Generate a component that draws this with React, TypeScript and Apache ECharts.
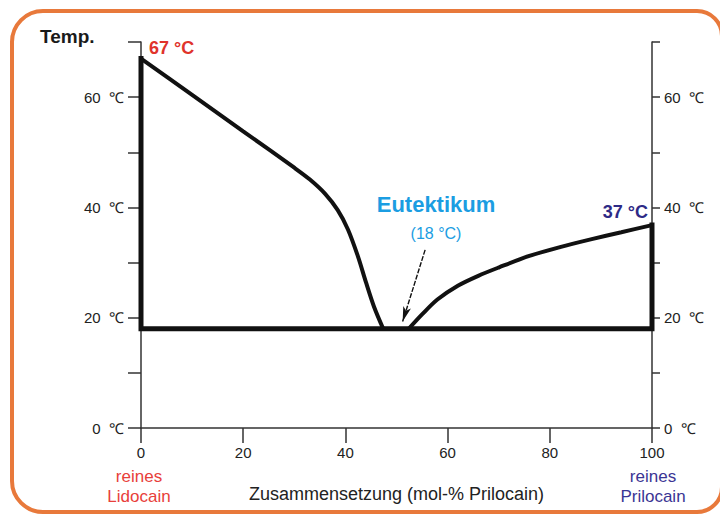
import React, { useEffect, useRef } from "react";
import * as echarts from "echarts";

// Composition in mol-% Prilocain (x) vs. temperature in °C (y)
const leftLiquidus: [number, number][] = [
  [0, 67], [10, 60.4], [20, 53.8], [30, 47.2], [33, 45.1], [36, 42.5],
  [38.5, 39.5], [40.5, 36], [42.5, 31], [44, 26.5], [45.6, 22], [47.4, 18],
];
const rightLiquidus: [number, number][] = [
  [52.4, 18], [55, 20.6], [58, 23.3], [62, 25.8], [66, 27.6], [70, 29.1],
  [76, 31.2], [82, 32.8], [88, 34.2], [94, 35.5], [100, 36.8],
];
const solidusFrame: [number, number][] = [[0, 67], [0, 18], [100, 18], [100, 36.8]];
const arrowFrom: [number, number] = [55.6, 32.3];
const arrowTo: [number, number] = [51.2, 19.3];
const yLabelValues = [0, 20, 40, 60];
const xTickValues = [0, 20, 40, 60, 80, 100];

const lidocainMelt = "67 °C";
const prilocainMelt = "37 °C";
const eutecticName = "Eutektikum";
const eutecticTemp = "(18 °C)";
const xAxisName = "Zusammensetzung (mol-% Prilocain)";

const FONT = "'Liberation Sans', Arial, sans-serif";

export default function App() {
  const ref = useRef<HTMLDivElement>(null);
  useEffect(() => {
    document.body.style.margin = "0";
    const chart = echarts.init(ref.current!, null, { renderer: "svg" });
    const axisColor = "#333";
    const yLabelFmt = (v: number) => (yLabelValues.includes(v) ? `${v}  ℃` : "");
    chart.setOption({
      animation: false,
      backgroundColor: "#fff",
      grid: { left: 141, right: 68, top: 42, bottom: 86 },
      xAxis: {
        type: "value",
        min: 0,
        max: 100,
        interval: 20,
        name: xAxisName,
        nameLocation: "middle",
        nameGap: 57,
        nameTextStyle: { fontSize: 18, color: "#222", fontFamily: FONT },
        axisLine: { onZero: false, lineStyle: { color: axisColor, width: 1.5 } },
        axisTick: { length: 15, lineStyle: { color: axisColor, width: 1.5 } },
        axisLabel: {
          margin: 17,
          fontSize: 15,
          color: "#222",
          fontFamily: FONT,
          formatter: (v: number) => (xTickValues.includes(v) ? String(v) : ""),
        },
        splitLine: { show: false },
      },
      yAxis: [
        {
          type: "value",
          position: "left",
          min: 0,
          max: 70,
          interval: 10,
          axisLine: { show: true, lineStyle: { color: axisColor, width: 1.5 } },
          axisTick: { show: true, length: 13, lineStyle: { color: axisColor, width: 1.5 } },
          axisLabel: { margin: 17, fontSize: 15, color: "#222", fontFamily: FONT, formatter: yLabelFmt },
          splitLine: { show: false },
        },
        {
          type: "value",
          position: "right",
          min: 0,
          max: 70,
          interval: 10,
          axisLine: { show: true, lineStyle: { color: axisColor, width: 1.5 } },
          axisTick: { show: true, length: 8, lineStyle: { color: axisColor, width: 1.5 } },
          axisLabel: { margin: 12, fontSize: 15, color: "#222", fontFamily: FONT, formatter: yLabelFmt },
          splitLine: { show: false },
        },
      ],
      series: [
        {
          type: "line",
          data: solidusFrame,
          showSymbol: false,
          lineStyle: { color: "#111", width: 5, join: "miter", cap: "square" },
          z: 3,
        },
        {
          type: "line",
          data: leftLiquidus,
          smooth: 0.3,
          showSymbol: false,
          lineStyle: { color: "#111", width: 4 },
          z: 3,
        },
        {
          type: "line",
          data: rightLiquidus,
          smooth: 0.3,
          showSymbol: false,
          lineStyle: { color: "#111", width: 4 },
          z: 3,
        },
        {
          type: "line",
          data: [],
          markLine: {
            silent: true,
            symbol: ["none", "arrow"],
            symbolSize: [6, 15],
            label: { show: false },
            lineStyle: { color: "#111", width: 1.4, type: [5, 1.5] },
            data: [[{ coord: arrowFrom }, { coord: arrowTo }]],
          },
        },
      ],
      graphic: [
        {
          type: "rect",
          shape: { x: 12, y: 11, width: 710, height: 501, r: [31, 25, 25, 31] },
          style: { fill: "none", stroke: "#E8793B", lineWidth: 4 },
          silent: true,
          z: 0,
        },
        {
          type: "text",
          x: 40,
          y: 36,
          style: { text: "Temp.", fontSize: 19, fontWeight: "bold", fill: "#1a1a1a", fontFamily: FONT, verticalAlign: "middle" },
        },
        {
          type: "text",
          x: 149,
          y: 48,
          style: { text: lidocainMelt, fontSize: 18, fontWeight: "bold", fill: "#E0332B", fontFamily: FONT, verticalAlign: "middle" },
        },
        {
          type: "text",
          x: 648,
          y: 212,
          style: { text: prilocainMelt, fontSize: 18, fontWeight: "bold", fill: "#2E2A86", fontFamily: FONT, align: "right", verticalAlign: "middle" },
        },
        {
          type: "text",
          x: 436,
          y: 204,
          style: { text: eutecticName, fontSize: 22, fontWeight: "bold", fill: "#1B9DE2", fontFamily: FONT, align: "center", verticalAlign: "middle" },
        },
        {
          type: "text",
          x: 436,
          y: 233,
          style: { text: eutecticTemp, fontSize: 16, fill: "#1B9DE2", fontFamily: FONT, align: "center", verticalAlign: "middle" },
        },
        {
          type: "text",
          x: 139,
          y: 486,
          style: { text: "reines\nLidocain", fontSize: 17, lineHeight: 20, fill: "#E8403A", fontFamily: FONT, align: "center", verticalAlign: "middle" },
        },
        {
          type: "text",
          x: 653,
          y: 486,
          style: { text: "reines\nPrilocain", fontSize: 17, lineHeight: 20, fill: "#3B3594", fontFamily: FONT, align: "center", verticalAlign: "middle" },
        },
      ],
    });
    return () => chart.dispose();
  }, []);
  return <div ref={ref} style={{ width: 720, height: 514 }} />;
}
